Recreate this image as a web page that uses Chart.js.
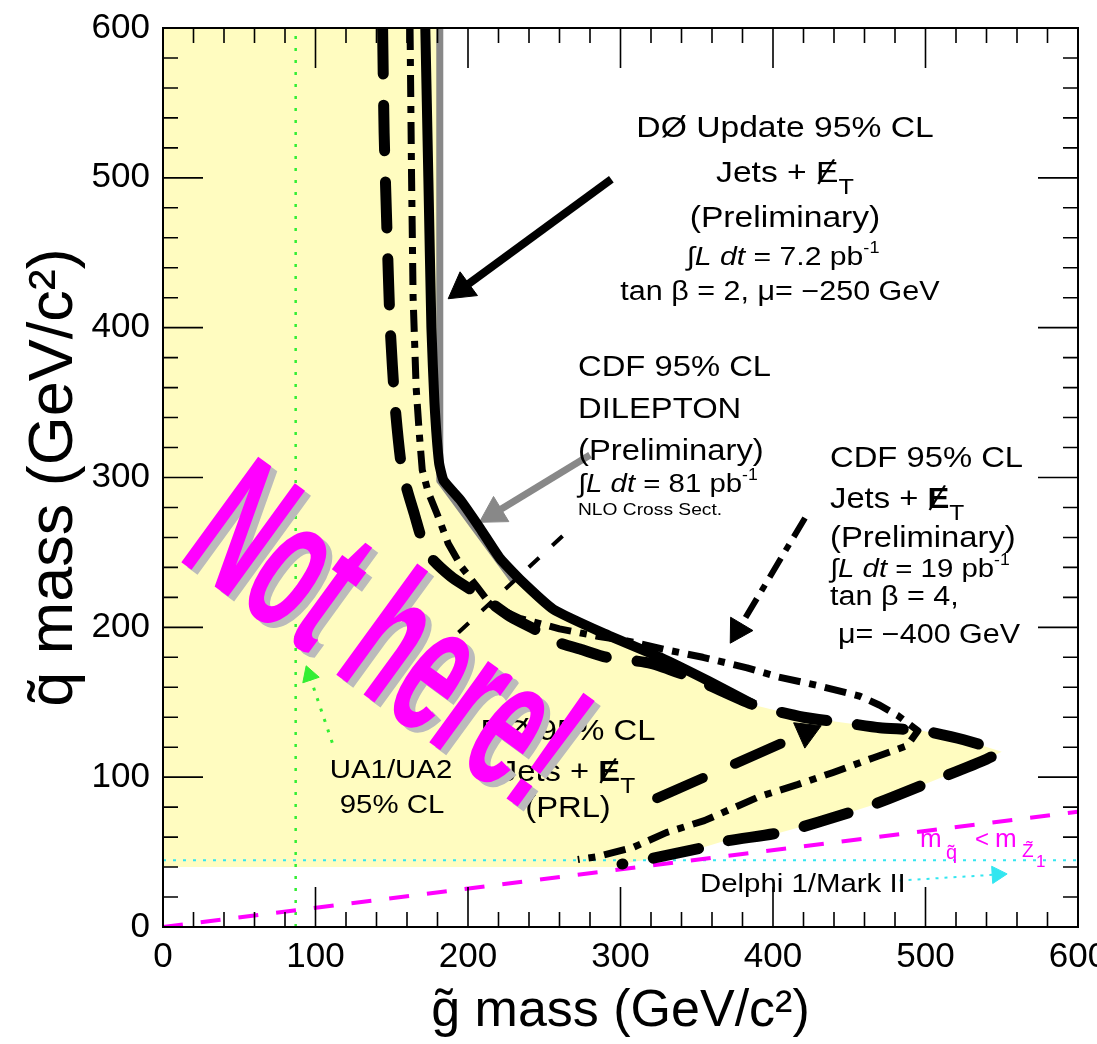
<!DOCTYPE html>
<html>
<head>
<meta charset="utf-8">
<script src="https://cdn.jsdelivr.net/npm/chart.js@4.4.1/dist/chart.umd.min.js"></script>
<style>
  html, body { margin: 0; padding: 0; background: #fff; }
</style>
</head>
<body>
<canvas id="c" width="1097" height="1044"></canvas>
<script>
// tick values (GeV/c^2)
const massTicks = [0, 100, 200, 300, 400, 500, 600];

// DØ update 95% CL, solid
const d0GluinoX = [172, 174, 176, 178, 181, 184, 195, 208, 221, 234, 256, 289, 326, 358, 388];
const d0SquarkY = [600, 500, 400, 350, 310, 298, 285, 266, 246, 232, 212, 196, 180, 164, 148];

// CDF dilepton, grey
const dilepGluinoX = [181.5, 181.5, 230];
const dilepSquarkY = [600, 298, 231];

// long dashed contour (DØ PRL)
const prlGluinoX = [144, 145, 147, 149, 152, 156, 160, 165, 170, 177, 190, 210, 228, 245, 256, 275, 291, 320, 350, 388, 420, 449, 470, 498, 525, 548,
  540, 506, 464, 430, 405, 367, 354, 317, 301];
const prlSquarkY = [600, 530, 460, 400, 350, 310, 292, 275, 258, 245, 233, 220, 207, 198, 191, 185, 180, 176, 165, 148, 140, 136, 133, 131, 125, 117,
  112, 98, 81, 70, 63, 57, 53, 45, 42];

// CDF jets + missing ET, dash-dot
const cdfGluinoX = [162, 163, 164, 166, 168, 170, 174, 180, 187, 196, 206, 215, 234, 260, 285, 304, 330, 354, 383, 403, 430, 457, 470, 482, 495,
  488, 466, 439, 416, 391, 355, 330, 308, 285, 272];
const cdfSquarkY = [600, 500, 420, 360, 330, 305, 290, 275, 256, 240, 227, 215, 206, 199, 194, 191, 185, 180, 173, 167, 161, 154, 148, 141, 131,
  121, 113, 103, 95, 87, 71, 63, 53, 47, 45];

// short thin dashed piece
const thinGluinoX = [262, 190];
const thinSquarkY = [261, 193];

// excluded (yellow) region
const exclGluinoX = [0, 0, 183, 183, 184, 195, 208, 221, 234, 256, 289, 326, 358, 388, 420, 449, 470, 498, 525, 550,
  540, 506, 464, 430, 405, 367, 354, 317, 301, 301];
const exclSquarkY = [40, 600, 600, 300, 298, 285, 266, 246, 232, 212, 196, 180, 164, 148, 140, 136, 133, 131, 125, 117,
  112, 98, 81, 70, 63, 57, 53, 45, 42, 40];

// UA1/UA2, Delphi and the m_q < m_Z1 line
const ua1GluinoX = [87, 87];
const ua1SquarkY = [0, 600];
const delphiGluinoX = [0, 600];
const delphiSquarkY = [44.5, 44.5];
const lspGluinoX = [0, 600];
const lspSquarkY = [0, 77];

// arrows: start, head
const d0ArrowX = [294, 196], d0ArrowY = [499, 426];
const dilepArrowX = [280, 217], dilepArrowY = [315, 276];
const cdfArrowX = [421, 377], cdfArrowY = [273, 198];
const prlArrowX = [324, 422], prlArrowY = [86, 130];
const ua1ArrowX = [111, 96], ua1ArrowY = [123, 168];
const delphiArrowX = [483, 547], delphiArrowY = [31, 35];

const FONT = '"Liberation Sans", Arial, sans-serif';
const MAGENTA = '#ff00ff';
const CYAN = '#33e6f0';
const GREEN = '#33ee33';

const pts = (xs, ys) => xs.map((x, i) => ({ x: x, y: ys[i] }));

function curve(xs, ys, color, width, dash, cap, order, tension) {
  return {
    data: pts(xs, ys), showLine: true, fill: false, tension: tension || 0,
    borderColor: color, borderWidth: width, borderDash: dash || [],
    borderCapStyle: cap || 'butt', borderJoinStyle: 'round',
    pointRadius: 0, order: order || 0
  };
}

function arrow(xs, ys, color, width, dash, cap, head, order) {
  const ds = curve(xs, ys, color, width, dash, cap, order);
  ds.pointRadius = [0, head];
  ds.pointStyle = 'triangle';
  ds.pointBackgroundColor = color;
  ds.pointBorderColor = color;
  ds.pointBorderWidth = 1;
  ds.pointRotation = (c) => {
    const s = c.chart.scales, d = c.dataset.data;
    if (!s.x) return 0;
    const dx = s.x.getPixelForValue(d[1].x) - s.x.getPixelForValue(d[0].x);
    const dy = s.y.getPixelForValue(d[1].y) - s.y.getPixelForValue(d[0].y);
    return Math.atan2(dx, -dy) * 180 / Math.PI;
  };
  return ds;
}

const excluded = {
  data: pts(exclGluinoX, exclSquarkY), showLine: true, tension: 0,
  borderWidth: 0, borderColor: 'rgba(0,0,0,0)', backgroundColor: '#fffcc0',
  fill: 'shape', pointRadius: 0, order: 20
};

// rich text helper: parts drawn one after another on a baseline
function rich(ctx, x0, y0, parts, align, sx) {
  sx = sx || 1.13;
  let total = 0;
  parts.forEach(p => {
    ctx.font = (p.it ? 'italic ' : '') + (p.b ? 'bold ' : '') + p.s + 'px ' + FONT;
    p.w = ctx.measureText(p.t).width * sx;
    total += p.w;
  });
  let x = align === 'center' ? x0 - total / 2 : align === 'right' ? x0 - total : x0;
  parts.forEach(p => {
    ctx.save();
    ctx.font = (p.it ? 'italic ' : '') + (p.b ? 'bold ' : '') + p.s + 'px ' + FONT;
    ctx.translate(x, y0 + (p.dy || 0));
    ctx.scale(sx, 1);
    ctx.fillText(p.t, 0, 0);
    if (p.slash) {
      const w = p.w / sx;
      ctx.lineWidth = 2;
      ctx.beginPath();
      ctx.moveTo(w * 0.1, 2);
      ctx.lineTo(w * 0.8, -p.s * 0.78);
      ctx.stroke();
    }
    ctx.restore();
    x += p.w;
  });
}

const T = (t, s, o) => Object.assign({ t: t, s: s }, o || {});
const jetsMet = (s, bold) => [T('Jets + ', s), T('E', s, { b: bold, slash: true }), T('T', s * 0.75, { dy: s * 0.42 })];
const lumi = (v, s) => [T('\u222B', s), T('L dt', s, { it: true }), T(' = ' + v + ' pb', s), T('-1', s * 0.6, { dy: -s * 0.45 })];

const textPlugin = {
  id: 'texts',
  afterDraw(chart) {
    const ctx = chart.ctx;
    ctx.save();
    ctx.fillStyle = '#000';
    ctx.strokeStyle = '#000';
    ctx.textBaseline = 'alphabetic';
    ctx.textAlign = 'left';

    // DØ update
    rich(ctx, 785, 137, [T('D\u00D8 Update 95% CL', 29)], 'center', 1.16);
    rich(ctx, 785, 182, jetsMet(29, false), 'center', 1.16);
    rich(ctx, 785, 227, [T('(Preliminary)', 29)], 'center', 1.16);
    rich(ctx, 783, 265, lumi('7.2', 26), 'center', 1.16);
    rich(ctx, 780, 300, [T('tan \u03B2 = 2, \u03BC= \u2212250 GeV', 27)], 'center', 1.13);

    // CDF dilepton
    rich(ctx, 578, 376, [T('CDF 95% CL', 29)], 'left');
    rich(ctx, 578, 418, [T('DILEPTON', 29)], 'left');
    rich(ctx, 578, 460, [T('(Preliminary)', 29)], 'left');
    rich(ctx, 578, 492, lumi('81', 26), 'left');
    rich(ctx, 578, 515, [T('NLO Cross Sect.', 17)], 'left');

    // CDF jets
    rich(ctx, 830, 467, [T('CDF 95% CL', 29)], 'left');
    rich(ctx, 830, 508, jetsMet(29, true), 'left');
    rich(ctx, 830, 547, [T('(Preliminary)', 29)], 'left');
    rich(ctx, 830, 577, lumi('19', 26), 'left');
    rich(ctx, 830, 605, [T('tan \u03B2 = 4,', 27)], 'left');
    rich(ctx, 838, 643, [T('\u03BC= \u2212400 GeV', 27)], 'left');

    // DØ PRL
    rich(ctx, 568, 740, [T('D\u00D8 95% CL', 29)], 'center');
    rich(ctx, 568, 781, jetsMet(29, true), 'center');
    rich(ctx, 568, 817, [T('(PRL)', 29)], 'center');

    // UA1/UA2 and Delphi
    rich(ctx, 391, 778, [T('UA1/UA2', 26)], 'center');
    rich(ctx, 392, 813, [T('95% CL', 26)], 'center');
    rich(ctx, 700, 892, [T('Delphi 1/Mark II', 26)], 'left');

    // m_q < m_Z1
    ctx.fillStyle = MAGENTA;
    ctx.font = '26px ' + FONT; ctx.fillText('m', 920, 847);
    ctx.font = '20px ' + FONT; ctx.fillText('q\u0303', 946, 859);
    ctx.font = '24px ' + FONT; ctx.fillText('<', 975, 847);
    ctx.font = '26px ' + FONT; ctx.fillText('m', 995, 847);
    ctx.font = '19px ' + FONT; ctx.fillText('Z\u0303', 1022, 857);
    ctx.font = '17px ' + FONT; ctx.fillText('1', 1036, 867);

    // Not here!
    const size = 190;
    ctx.font = 'bold ' + size + 'px ' + FONT;
    const w = ctx.measureText('Not here!').width;
    const sx = 432 / w;
    const draw = (dx, dy, col) => {
      ctx.save();
      ctx.translate(391 + dx, 630 + dy);
      ctx.rotate(36 * Math.PI / 180);
      ctx.scale(sx, 1);
      ctx.fillStyle = col;
      ctx.textAlign = 'center';
      ctx.fillText('Not here!', 0, size * 0.36);
      ctx.restore();
    };
    draw(6, 5, '#bbbbbb');
    draw(0, 0, MAGENTA);
    ctx.restore();
  }
};

const framePlugin = {
  id: 'frame',
  afterDatasetsDraw(chart) {
    const { ctx, chartArea: a, scales } = chart;
    ctx.save();
    ctx.strokeStyle = '#000';
    ctx.lineWidth = 2;
    ctx.strokeRect(a.left, a.top, a.right - a.left, a.bottom - a.top);
    ctx.lineWidth = 1.6;
    ctx.beginPath();
    for (let v = 20; v < 600; v += 20) {
      const len = v % 100 === 0 ? 40 : 15;
      const px = scales.x.getPixelForValue(v);
      const py = scales.y.getPixelForValue(v);
      ctx.moveTo(px, a.bottom); ctx.lineTo(px, a.bottom - len);
      ctx.moveTo(px, a.top); ctx.lineTo(px, a.top + len);
      ctx.moveTo(a.left, py); ctx.lineTo(a.left + len, py);
      ctx.moveTo(a.right, py); ctx.lineTo(a.right - len, py);
    }
    ctx.stroke();
    ctx.restore();
  }
};

Chart.defaults.font.family = FONT;
Chart.defaults.color = '#000';

new Chart(document.getElementById('c').getContext('2d'), {
  type: 'scatter',
  data: {
    datasets: [
      excluded,
      curve(ua1GluinoX, ua1SquarkY, GREEN, 2.5, [3, 9], 'butt', 6),
      curve(delphiGluinoX, delphiSquarkY, CYAN, 2, [3, 7], 'butt', 6),
      curve(lspGluinoX, lspSquarkY, MAGENTA, 4, [20, 18], 'butt', 5),
      curve(dilepGluinoX, dilepSquarkY, '#888888', 7, [], 'butt', 3),
      curve(thinGluinoX, thinSquarkY, '#000', 4, [14, 18], 'butt', 2),
      curve(cdfGluinoX, cdfSquarkY, '#000', 7, [22, 9, 7, 9], 'butt', 1, 0),
      curve(prlGluinoX, prlSquarkY, '#000', 11, [46, 31], 'round', 1, 0.2),
      curve(d0GluinoX, d0SquarkY, '#000', 10, [], 'butt', 0, 0.15),
      arrow(d0ArrowX, d0ArrowY, '#000', 8, [], 'butt', 17, 0),
      arrow(dilepArrowX, dilepArrowY, '#888888', 7, [], 'butt', 17, 0),
      arrow(cdfArrowX, cdfArrowY, '#000', 6, [22, 9, 7, 9], 'butt', 15, 0),
      arrow(prlArrowX, prlArrowY, '#000', 10, [50, 35], 'round', 16, 0),
      arrow(ua1ArrowX, ua1ArrowY, GREEN, 3, [3, 8], 'butt', 10, 0),
      arrow(delphiArrowX, delphiArrowY, CYAN, 2, [3, 6], 'butt', 10, 0)
    ]
  },
  options: {
    responsive: false,
    animation: false,
    events: [],
    layout: { padding: { top: 28, right: 19, left: 0, bottom: 0 } },
    plugins: { legend: { display: false }, tooltip: { enabled: false } },
    scales: {
      x: {
        type: 'linear', min: 0, max: 600,
        afterBuildTicks: (s) => { s.ticks = massTicks.map(v => ({ value: v })); },
        ticks: { font: { size: 35 }, padding: 9, maxRotation: 0 },
        grid: { display: false, drawTicks: false },
        border: { display: true, color: '#000', width: 2 },
        title: { display: true, text: 'g\u0303 mass (GeV/c\u00B2)', font: { size: 52 }, padding: { top: 0, bottom: 1 } },
        afterFit: (s) => { s.height = 117; s.paddingLeft = 0; s.paddingRight = 0; }
      },
      y: {
        type: 'linear', min: 0, max: 600,
        afterBuildTicks: (s) => { s.ticks = massTicks.map(v => ({ value: v })); },
        ticks: { font: { size: 35 }, padding: 13 },
        grid: { display: false, drawTicks: false },
        border: { display: true, color: '#000', width: 2 },
        title: { display: true, text: 'q\u0303 mass (GeV/c\u00B2)', font: { size: 63 }, padding: { top: 17, bottom: 0 } },
        afterFit: (s) => { s.width = 163; s.paddingTop = 0; s.paddingBottom = 0; }
      }
    }
  },
  plugins: [framePlugin, textPlugin]
});
</script>
</body>
</html>
